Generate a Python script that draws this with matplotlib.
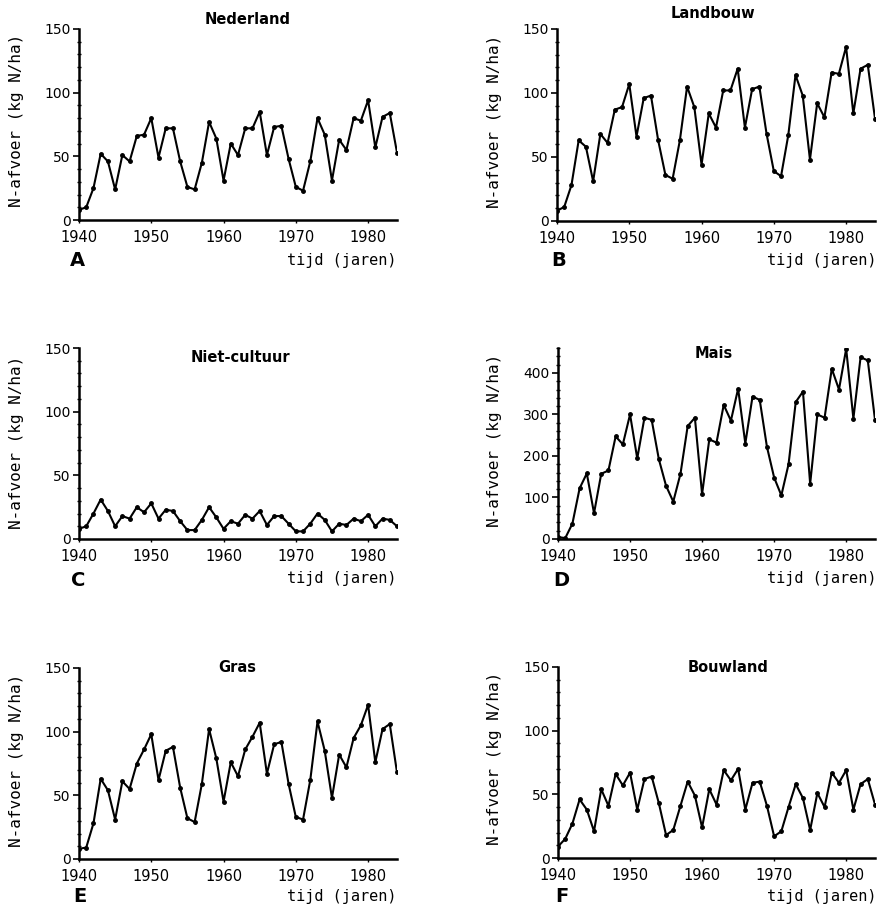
import matplotlib
matplotlib.use("Agg")
import matplotlib.pyplot as plt
from matplotlib.ticker import MultipleLocator

years = list(range(1940, 1985))

nederland = [8, 10, 25, 52, 46, 24, 51, 46, 66, 67, 80, 49, 72, 72, 46, 26, 24, 45, 77, 64,
             31, 60, 51, 72, 72, 85, 51, 73, 74, 48, 26, 23, 46, 80, 67, 31, 63, 55, 80, 78,
             94, 57, 81, 84, 53]
landbouw = [8, 11, 28, 63, 58, 31, 68, 61, 87, 89, 107, 66, 96, 98, 63, 36, 33, 63, 105, 89,
            44, 84, 73, 102, 102, 119, 73, 103, 105, 68, 39, 35, 67, 114, 98, 48, 92, 81, 116, 115,
            136, 84, 119, 122, 80]
nietcultuur = [8, 10, 20, 31, 22, 10, 18, 16, 25, 21, 28, 16, 23, 22, 14, 7, 7, 15, 25, 17,
               8, 14, 12, 19, 16, 22, 11, 18, 18, 12, 6, 6, 12, 20, 15, 6, 12, 11, 16, 14,
               19, 10, 16, 15, 10]
mais = [5, 2, 37, 122, 158, 62, 157, 165, 247, 228, 300, 194, 292, 287, 192, 128, 90, 157, 272, 292,
        108, 240, 232, 323, 285, 362, 230, 343, 335, 222, 148, 105, 180, 330, 355, 133, 300, 292, 410, 360,
        458, 290, 438, 430, 287]
gras = [8, 9, 28, 63, 54, 31, 61, 55, 75, 86, 98, 62, 85, 88, 56, 32, 29, 59, 102, 79,
        45, 76, 65, 86, 96, 107, 67, 90, 92, 59, 33, 31, 62, 108, 85, 48, 82, 72, 95, 105,
        121, 76, 102, 106, 68]
bouwland = [9, 15, 27, 46, 38, 21, 54, 41, 66, 57, 67, 38, 62, 64, 43, 18, 22, 41, 60, 49,
            24, 54, 42, 69, 61, 70, 38, 59, 60, 41, 17, 21, 40, 58, 47, 22, 51, 40, 67, 59,
            69, 38, 58, 62, 42]

titles = ["Nederland", "Landbouw", "Niet-cultuur", "Mais", "Gras", "Bouwland"]
letters = ["A", "B", "C", "D", "E", "F"]
series = [nederland, landbouw, nietcultuur, mais, gras, bouwland]
xticks = [1940, 1950, 1960, 1970, 1980]
yticks_std = [0, 50, 100, 150]
yticks_mais = [0, 100, 200, 300, 400]
ylabel = "N-afvoer (kg N/ha)"
xlabel = "tijd (jaren)"

W, H = 878, 910
fig = plt.figure(figsize=(W / 100, H / 100), dpi=100)

# pixel boxes: left, right, top, bottom
boxes = [
    (79, 397, 29, 220),
    (557, 875, 29, 221),
    (79, 397, 348, 539),
    (558, 875, 348, 539),
    (79, 397, 668, 859),
    (558, 875, 667, 858),
]
title_pos = [(248, 20), (713, 14), (240, 357), (714, 353), (237, 667), (728, 668)]
letter_pos = [(70, 261), (551, 261), (71, 580), (553, 580), (73, 897), (555, 897)]
xlabel_pos = [(397, 260), (877, 260), (397, 578), (877, 578), (397, 897), (877, 897)]
ylabel_pos = [(17, 120), (495, 121), (17, 442), (495, 440), (17, 760), (495, 758)]

for i in range(6):
    l, r, t, b = boxes[i]
    ax = fig.add_axes([l / W, 1 - b / H, (r - l) / W, (b - t) / H])
    ax.plot(years, series[i], color="black", lw=1.5, marker="o", ms=2.5)
    ax.set_xlim(1940, 1984)
    if i == 3:
        ax.set_ylim(0, 460)
        ax.set_yticks(yticks_mais)
        ax.yaxis.set_minor_locator(MultipleLocator(20))
    else:
        ax.set_ylim(0, 150)
        ax.set_yticks(yticks_std)
        ax.yaxis.set_minor_locator(MultipleLocator(10))
    ax.set_xticks(xticks)
    for s in ["top", "right"]:
        ax.spines[s].set_visible(False)
    for s in ["left", "bottom"]:
        ax.spines[s].set_linewidth(1.8)
    ax.tick_params(axis="y", which="major", direction="out", length=4, width=1.2, labelsize=10, pad=2)
    ax.tick_params(axis="y", which="minor", direction="inout", length=3, width=1)
    ax.tick_params(axis="x", which="major", direction="out", length=2, width=1, labelsize=10.5, pad=5)
    ax.patch.set_alpha(0)

    fig.text(title_pos[i][0] / W, 1 - title_pos[i][1] / H, titles[i], ha="center", va="center",
             fontsize=10.5, fontweight="bold")
    fig.text(letter_pos[i][0] / W, 1 - letter_pos[i][1] / H, letters[i], ha="left", va="center",
             fontsize=14, fontweight="bold")
    fig.text(xlabel_pos[i][0] / W, 1 - xlabel_pos[i][1] / H, xlabel, ha="right", va="center",
             fontsize=11, family="DejaVu Sans Mono")
    fig.text(ylabel_pos[i][0] / W, 1 - ylabel_pos[i][1] / H, ylabel, ha="center", va="center",
             fontsize=11.5, rotation=90, family="DejaVu Sans Mono")

fig.savefig("out.png", dpi=100, facecolor="white")
